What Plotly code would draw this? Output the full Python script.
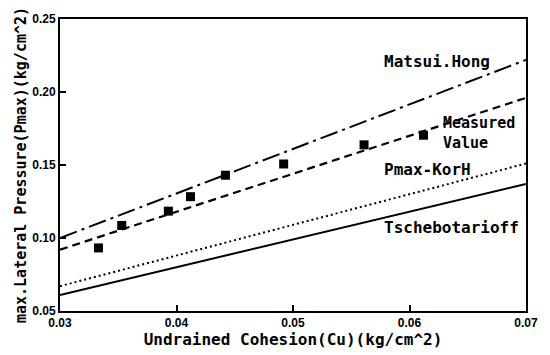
import plotly.graph_objects as go

# ---- data ----
x_line = [0.03, 0.04, 0.05, 0.06, 0.07]
matsui_hong = [0.100, 0.1305, 0.161, 0.1915, 0.222]
measured_fit = [0.092, 0.118, 0.144, 0.170, 0.196]
pmax_korh = [0.067, 0.088, 0.109, 0.130, 0.151]
tschebotarioff = [0.061, 0.080, 0.099, 0.118, 0.137]

meas_x = [0.0333, 0.0353, 0.0393, 0.0412, 0.0442, 0.0492, 0.0561, 0.0612]
meas_y = [0.0932, 0.1086, 0.1184, 0.1283, 0.1430, 0.1507, 0.1638, 0.1704]

x_ticks = [0.03, 0.04, 0.05, 0.06, 0.07]
y_ticks = [0.05, 0.10, 0.15, 0.20, 0.25]

label_font = dict(family="DejaVu Sans Mono", size=16, color="black")

fig = go.Figure()
fig.add_trace(go.Scatter(x=x_line, y=matsui_hong, mode="lines",
                         line=dict(color="black", width=2, dash="18px,5px,3px,5px"),
                         name="Matsui.Hong"))
fig.add_trace(go.Scatter(x=x_line, y=measured_fit, mode="lines",
                         line=dict(color="black", width=2.2, dash="8px,5px"),
                         name="Measured fit"))
fig.add_trace(go.Scatter(x=x_line, y=pmax_korh, mode="lines",
                         line=dict(color="black", width=2, dash="2px,3px"),
                         name="Pmax-KorH"))
fig.add_trace(go.Scatter(x=x_line, y=tschebotarioff, mode="lines",
                         line=dict(color="black", width=2),
                         name="Tschebotarioff"))
fig.add_trace(go.Scatter(x=meas_x, y=meas_y, mode="markers",
                         marker=dict(symbol="square", size=9, color="black"),
                         name="Measured Value"))

annots = [
    ("Matsui.Hong", 0.0576, 0.2210, 16),
    ("Measured<br>Value", 0.0627, 0.1722, 15),
    ("Pmax-KorH", 0.0576, 0.1467, 16),
    ("Tschebotarioff", 0.0576, 0.1070, 16),
]
for txt, ax, ay, fs in annots:
    fig.add_annotation(x=ax, y=ay, xref="x", yref="y",
                       text="<b>%s</b>" % txt.replace("<br>", "</b><br><b>"),
                       showarrow=False, xanchor="left", yanchor="middle",
                       align="left",
                       font=dict(family="DejaVu Sans Mono", size=fs, color="black"))

axis_common = dict(showline=True, linecolor="black", linewidth=2, mirror=True,
                   ticks="inside", ticklen=6, tickwidth=1.5, tickcolor="black",
                   showgrid=False, zeroline=False,
                   tickfont=dict(family="Liberation Sans", size=12, color="black"))

fig.update_layout(
    width=550, height=355,
    margin=dict(l=60, r=15, t=15, b=38),
    paper_bgcolor="white", plot_bgcolor="white",
    showlegend=False,
    xaxis=dict(range=[0.03, 0.07], tickvals=x_ticks,
               ticktext=["<b>%.2f</b>" % v for v in x_ticks],
               title=dict(text="<b>Undrained Cohesion(Cu)(kg/cm^2)</b>",
                          font=dict(family="DejaVu Sans Mono", size=16, color="black"),
                          standoff=1),
               **axis_common),
    yaxis=dict(range=[0.05, 0.25], tickvals=y_ticks,
               ticktext=["<b>%.2f</b>" % v for v in y_ticks],
               title=dict(text="<b>max.Lateral Pressure(Pmax)(kg/cm^2)</b>",
                          font=dict(family="DejaVu Sans Mono", size=15, color="black"),
                          standoff=2),
               **axis_common),
)

fig.write_html("out.html")
